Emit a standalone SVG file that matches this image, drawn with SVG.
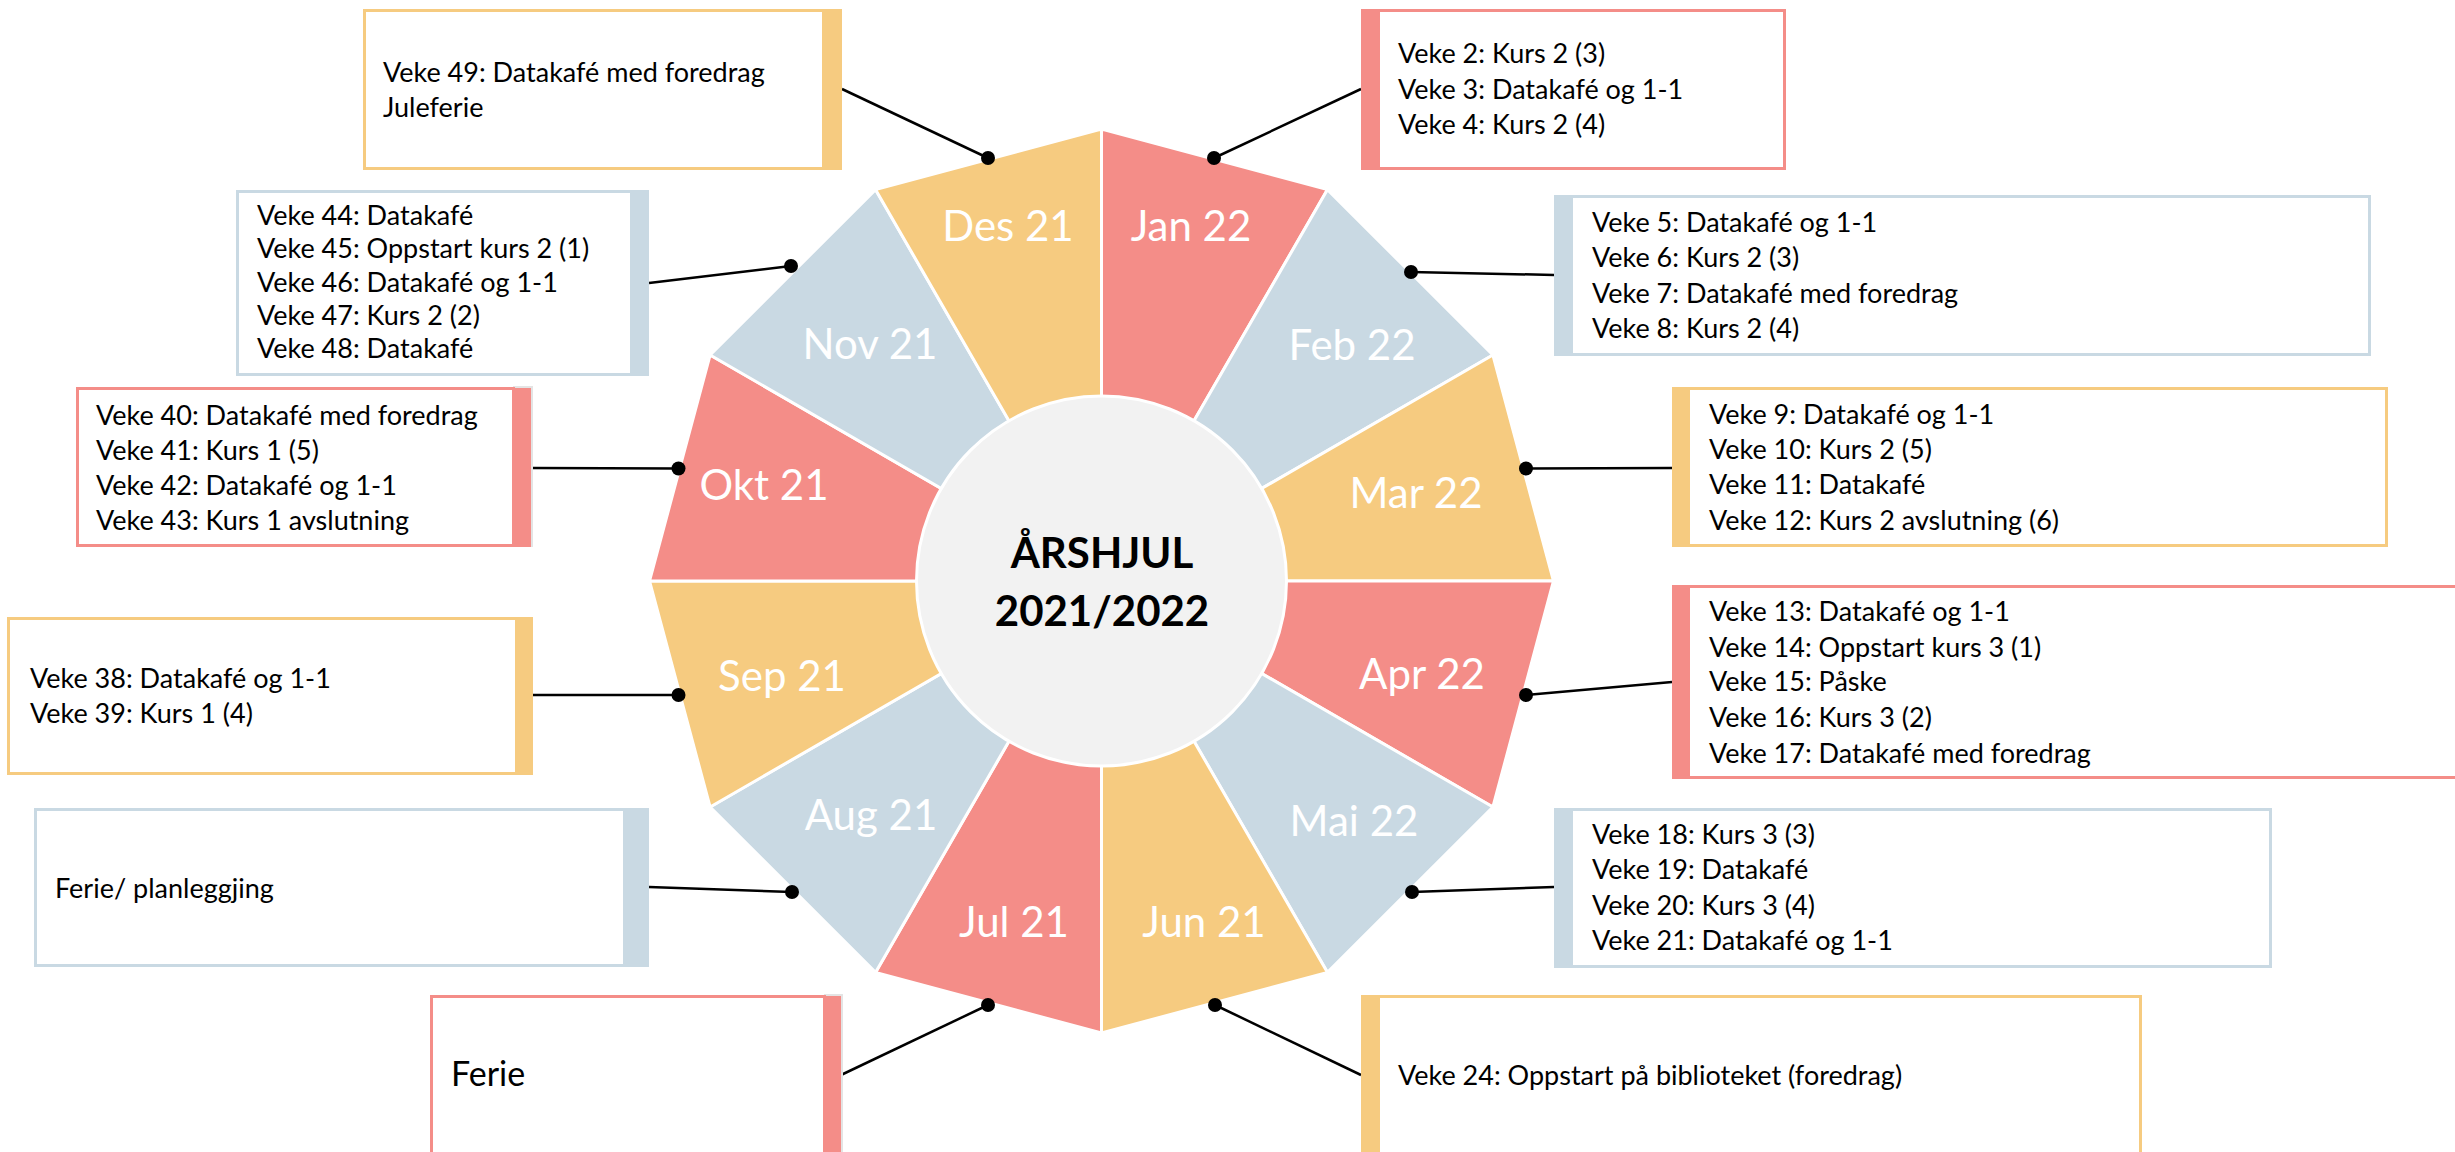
<svg xmlns="http://www.w3.org/2000/svg" width="2455" height="1152" viewBox="0 0 2455 1152">
<style>
.red{fill:#F48D88}
.blue{fill:#C9D9E3}
.yel{fill:#F6CB80}
.seg{stroke:#FFFFFF;stroke-width:3;stroke-linejoin:round}
.mon{font-family:Lato,"Liberation Sans",sans-serif;font-size:42px;fill:#FFFFFF;text-anchor:middle}
.ctr{font-family:Lato,"Liberation Sans",sans-serif;font-size:42px;font-weight:bold;fill:#000000;text-anchor:middle}
.bx{fill:#FFFFFF;stroke-width:3}
.bred{stroke:#F48D88}
.bblue{stroke:#C9D9E3}
.byel{stroke:#F6CB80}
.txt{font-family:Lato,"Liberation Sans",sans-serif;font-size:27px;fill:#000000}
.shd{fill:#E4E4E4}
.con{stroke:#000000;stroke-width:2.5;fill:none}
.dot{fill:#000000}
</style>
<rect width="2455" height="1152" fill="#FFFFFF"/>
<g id="wheel">
<polygon class="seg red" points="1101.5,581 1101.5,129 1327.5,189.6"/>
<polygon class="seg blue" points="1101.5,581 1327.5,189.6 1492.9,355"/>
<polygon class="seg yel" points="1101.5,581 1492.9,355 1553.5,581"/>
<polygon class="seg red" points="1101.5,581 1553.5,581 1492.9,807"/>
<polygon class="seg blue" points="1101.5,581 1492.9,807 1327.5,972.4"/>
<polygon class="seg yel" points="1101.5,581 1327.5,972.4 1101.5,1033"/>
<polygon class="seg red" points="1101.5,581 1101.5,1033 875.5,972.4"/>
<polygon class="seg blue" points="1101.5,581 875.5,972.4 710.1,807"/>
<polygon class="seg yel" points="1101.5,581 710.1,807 649.5,581"/>
<polygon class="seg red" points="1101.5,581 649.5,581 710.1,355"/>
<polygon class="seg blue" points="1101.5,581 710.1,355 875.5,189.6"/>
<polygon class="seg yel" points="1101.5,581 875.5,189.6 1101.5,129"/>
<circle cx="1101.5" cy="581" r="185" fill="#F2F2F2" stroke="#FFFFFF" stroke-width="3"/>
<text class="mon" x="1191" y="241">Jan 22</text>
<text class="mon" x="1352" y="360">Feb 22</text>
<text class="mon" x="1416" y="508">Mar 22</text>
<text class="mon" x="1422" y="689">Apr 22</text>
<text class="mon" x="1354" y="836">Mai 22</text>
<text class="mon" x="1204" y="937">Jun 21</text>
<text class="mon" x="1014" y="937">Jul 21</text>
<text class="mon" x="871" y="830">Aug 21</text>
<text class="mon" x="782" y="691">Sep 21</text>
<text class="mon" x="764" y="500">Okt 21</text>
<text class="mon" x="870" y="359">Nov 21</text>
<text class="mon" x="1008" y="241">Des 21</text>
<text class="ctr" x="1102" y="568">ÅRSHJUL</text>
<text class="ctr" x="1102" y="626">2021/2022</text>
</g>
<g id="connectors">
<line class="con" x1="842" y1="89" x2="988" y2="158"/>
<line class="con" x1="1361" y1="89" x2="1214" y2="158"/>
<line class="con" x1="649" y1="283" x2="791" y2="266"/>
<line class="con" x1="1554" y1="275" x2="1411" y2="272"/>
<line class="con" x1="533" y1="468" x2="678.5" y2="468.5"/>
<line class="con" x1="1672" y1="468" x2="1526" y2="468.5"/>
<line class="con" x1="533" y1="695" x2="678.5" y2="695"/>
<line class="con" x1="1672" y1="682" x2="1526" y2="695"/>
<line class="con" x1="649" y1="887" x2="792" y2="892"/>
<line class="con" x1="1554" y1="887" x2="1412" y2="892"/>
<line class="con" x1="841" y1="1075" x2="988" y2="1005"/>
<line class="con" x1="1361" y1="1075" x2="1215" y2="1005"/>
<circle class="dot" cx="988" cy="158" r="7"/>
<circle class="dot" cx="1214" cy="158" r="7"/>
<circle class="dot" cx="791" cy="266" r="7"/>
<circle class="dot" cx="1411" cy="272" r="7"/>
<circle class="dot" cx="678.5" cy="468.5" r="7"/>
<circle class="dot" cx="1526" cy="468.5" r="7"/>
<circle class="dot" cx="678.5" cy="695" r="7"/>
<circle class="dot" cx="1526" cy="695" r="7"/>
<circle class="dot" cx="792" cy="892" r="7"/>
<circle class="dot" cx="1412" cy="892" r="7"/>
<circle class="dot" cx="988" cy="1005" r="7"/>
<circle class="dot" cx="1215" cy="1005" r="7"/>
</g>
<g id="box-des">
<rect class="bx byel" x="364.5" y="10.5" width="476" height="158"/>
<rect class="yel" x="822" y="9" width="20" height="161"/>
<text class="txt" x="383" y="82">Veke 49: Datakafé med foredrag</text>
<text class="txt" x="383" y="117">Juleferie</text>
</g>
<g id="box-nov">
<rect class="bx bblue" x="237.5" y="191.5" width="410" height="183"/>
<rect class="blue" x="630" y="190" width="19" height="186"/>
<text class="txt" x="257" y="225">Veke 44: Datakafé</text>
<text class="txt" x="257" y="258">Veke 45: Oppstart kurs 2 (1)</text>
<text class="txt" x="257" y="291.5">Veke 46: Datakafé og 1-1</text>
<text class="txt" x="257" y="325">Veke 47: Kurs 2 (2)</text>
<text class="txt" x="257" y="358">Veke 48: Datakafé</text>
</g>
<g id="box-okt">
<rect class="shd" x="513" y="386" width="20" height="161"/>
<rect class="bx bred" x="77.5" y="388.5" width="436" height="157"/>
<rect class="red" x="513" y="388" width="18" height="159"/>
<text class="txt" x="96" y="425">Veke 40: Datakafé med foredrag</text>
<text class="txt" x="96" y="460">Veke 41: Kurs 1 (5)</text>
<text class="txt" x="96" y="494.5">Veke 42: Datakafé og 1-1</text>
<text class="txt" x="96" y="529.5">Veke 43: Kurs 1 avslutning</text>
</g>
<g id="box-sep">
<rect class="bx byel" x="8.5" y="618.5" width="523" height="155"/>
<rect class="yel" x="515" y="617" width="18" height="158"/>
<text class="txt" x="30" y="688">Veke 38: Datakafé og 1-1</text>
<text class="txt" x="30" y="723">Veke 39: Kurs 1 (4)</text>
</g>
<g id="box-aug">
<rect class="bx bblue" x="35.5" y="809.5" width="612" height="156"/>
<rect class="blue" x="623" y="808" width="26" height="159"/>
<text class="txt" x="55" y="898">Ferie/ planleggjing</text>
</g>
<g id="box-jul">
<rect class="shd" x="824" y="994" width="19" height="170"/>
<rect class="bx bred" x="431.5" y="996.5" width="393" height="170"/>
<rect class="red" x="824" y="996" width="17" height="170"/>
<text class="txt" x="451" y="1086" style="font-size:34px">Ferie</text>
</g>
<g id="box-jan">
<rect class="bx bred" x="1362.5" y="10.5" width="422" height="158"/>
<rect class="red" x="1361" y="9" width="19" height="161"/>
<text class="txt" x="1398" y="63">Veke 2: Kurs 2 (3)</text>
<text class="txt" x="1398" y="98.5">Veke 3: Datakafé og 1-1</text>
<text class="txt" x="1398" y="134">Veke 4: Kurs 2 (4)</text>
</g>
<g id="box-feb">
<rect class="bx bblue" x="1555.5" y="196.5" width="814" height="158"/>
<rect class="blue" x="1554" y="195" width="19" height="161"/>
<text class="txt" x="1592" y="232">Veke 5: Datakafé og 1-1</text>
<text class="txt" x="1592" y="267">Veke 6: Kurs 2 (3)</text>
<text class="txt" x="1592" y="302.5">Veke 7: Datakafé med foredrag</text>
<text class="txt" x="1592" y="338">Veke 8: Kurs 2 (4)</text>
</g>
<g id="box-mar">
<rect class="bx byel" x="1673.5" y="388.5" width="713" height="157"/>
<rect class="yel" x="1672" y="387" width="18" height="160"/>
<text class="txt" x="1709" y="424">Veke 9: Datakafé og 1-1</text>
<text class="txt" x="1709" y="459">Veke 10: Kurs 2 (5)</text>
<text class="txt" x="1709" y="494">Veke 11: Datakafé</text>
<text class="txt" x="1709" y="529.5">Veke 12: Kurs 2 avslutning (6)</text>
</g>
<g id="box-apr">
<rect class="bx bred" x="1673.5" y="586.5" width="800" height="191"/>
<rect class="red" x="1672" y="585" width="18" height="194"/>
<text class="txt" x="1709" y="621">Veke 13: Datakafé og 1-1</text>
<text class="txt" x="1709" y="657">Veke 14: Oppstart kurs 3 (1)</text>
<text class="txt" x="1709" y="691">Veke 15: Påske</text>
<text class="txt" x="1709" y="727">Veke 16: Kurs 3 (2)</text>
<text class="txt" x="1709" y="763">Veke 17: Datakafé med foredrag</text>
</g>
<g id="box-mai">
<rect class="bx bblue" x="1555.5" y="809.5" width="715" height="157"/>
<rect class="blue" x="1554" y="808" width="19" height="160"/>
<text class="txt" x="1592" y="844">Veke 18: Kurs 3 (3)</text>
<text class="txt" x="1592" y="879">Veke 19: Datakafé</text>
<text class="txt" x="1592" y="914.5">Veke 20: Kurs 3 (4)</text>
<text class="txt" x="1592" y="950">Veke 21: Datakafé og 1-1</text>
</g>
<g id="box-jun">
<rect class="bx byel" x="1362.5" y="996.5" width="778" height="170"/>
<rect class="yel" x="1361" y="995" width="19" height="170"/>
<text class="txt" x="1398" y="1085">Veke 24: Oppstart på biblioteket (foredrag)</text>
</g>
</svg>
